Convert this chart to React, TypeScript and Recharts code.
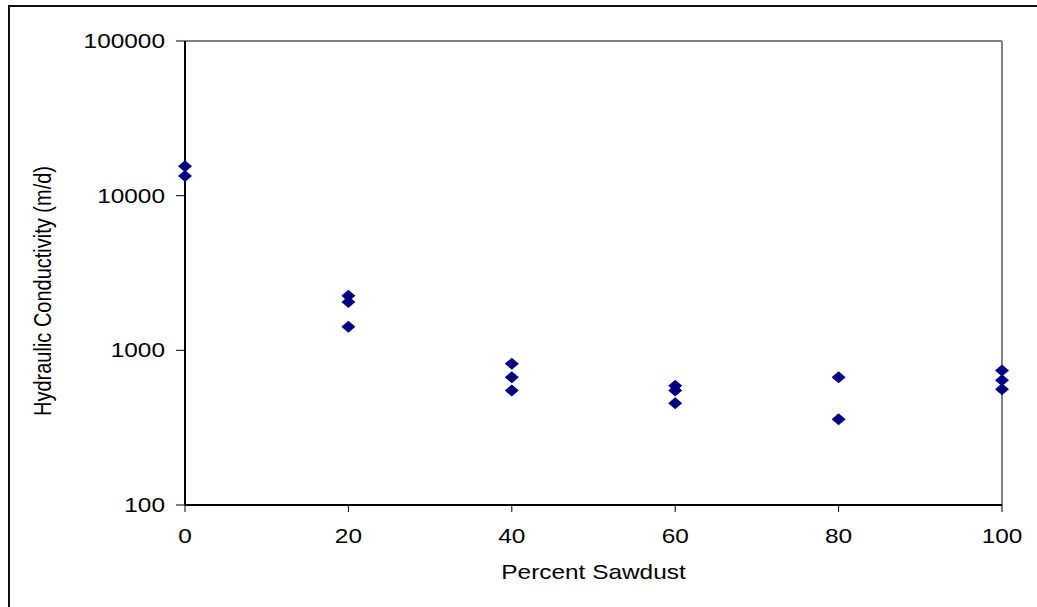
import React from "react";
import {
  ScatterChart,
  Scatter,
  XAxis,
  YAxis,
  ReferenceLine,
  Label,
} from "recharts";

// Sawdust content (%) of each sample and its measured hydraulic conductivity (m/d)
const sawdustPercent = [0, 0, 20, 20, 20, 40, 40, 40, 60, 60, 60, 80, 80, 100, 100, 100];
const conductivity = [15500, 13400, 2250, 2050, 1420, 820, 670, 550, 590, 550, 455, 670, 358, 740, 640, 560];

const xTicks = [0, 20, 40, 60, 80, 100];
const yTicks = [100, 1000, 10000, 100000];

const samples = sawdustPercent.map((p, i) => ({ pct: p, k: conductivity[i] }));

const FONT = "'Liberation Sans', Arial, sans-serif";
const STRETCH = 1.22;

const Diamond = (props: any) => {
  const { cx, cy } = props;
  if (cx == null || cy == null) return null;
  const hw = 7;
  const hh = 6;
  return (
    <polygon
      points={`${cx},${cy - hh} ${cx + hw},${cy} ${cx},${cy + hh} ${cx - hw},${cy}`}
      fill="#000080"
    />
  );
};

const XTick = (props: any) => {
  const { x, y, payload } = props;
  return (
    <text
      transform={`translate(${x},${y}) scale(${STRETCH},1)`}
      x={0}
      y={0}
      dy={27}
      textAnchor="middle"
      fontFamily={FONT}
      fontSize={20}
      fill="#000"
    >
      {payload.value}
    </text>
  );
};

const YTick = (props: any) => {
  const { x, y, payload } = props;
  return (
    <text
      transform={`translate(${x},${y}) scale(${STRETCH},1)`}
      x={0}
      y={0}
      dy={7}
      textAnchor="end"
      fontFamily={FONT}
      fontSize={20}
      fill="#000"
    >
      {payload.value}
    </text>
  );
};

const XTitle = (props: any) => {
  const { viewBox } = props;
  const cx = viewBox.x + viewBox.width / 2;
  const cy = viewBox.y + 74;
  return (
    <text
      transform={`translate(${cx},${cy}) scale(${STRETCH},1)`}
      textAnchor="middle"
      fontFamily={FONT}
      fontSize={20}
      fill="#000"
    >
      Percent Sawdust
    </text>
  );
};

const YTitle = (props: any) => {
  const { viewBox } = props;
  const cy = viewBox.y + viewBox.height / 2 + 18;
  return (
    <text
      transform={`translate(51,${cy}) rotate(-90) scale(1,${STRETCH})`}
      textAnchor="middle"
      fontFamily={FONT}
      fontSize={20}
      fill="#000"
    >
      Hydraulic Conductivity (m/d)
    </text>
  );
};

export default function App() {
  return (
    <div style={{ position: "absolute", left: 0, top: 0, width: 1037, height: 607, background: "#fff" }}>
      <div
        style={{
          position: "absolute",
          left: 8,
          top: 5,
          width: 1040,
          height: 610,
          borderTop: "2px solid #111",
          borderLeft: "2px solid #111",
          boxSizing: "border-box",
        }}
      />
      <div style={{ position: "absolute", left: 0, top: 0 }}>
        <ScatterChart
          width={1037}
          height={607}
          margin={{ top: 41, right: 35, bottom: 42, left: 0 }}
        >
          <XAxis
            type="number"
            dataKey="pct"
            domain={[0, 100]}
            ticks={xTicks}
            interval={0}
            height={60}
            tickSize={7}
            tickMargin={4}
            axisLine={{ stroke: "#000", strokeWidth: 2 }}
            tickLine={{ stroke: "#000", strokeWidth: 1 }}
            tick={<XTick />}
          >
            <Label content={<XTitle />} />
          </XAxis>
          <YAxis
            type="number"
            dataKey="k"
            scale="log"
            domain={[100, 100000]}
            ticks={yTicks}
            interval={0}
            allowDataOverflow
            width={185}
            tickSize={9}
            tickMargin={11}
            axisLine={{ stroke: "#000", strokeWidth: 2 }}
            tickLine={{ stroke: "#000", strokeWidth: 1 }}
            tick={<YTick />}
          >
            <Label content={<YTitle />} />
          </YAxis>
          <ReferenceLine y={100000} stroke="#808080" strokeWidth={2} />
          <ReferenceLine x={100} stroke="#808080" strokeWidth={2} />
          <Scatter data={samples} shape={<Diamond />} isAnimationActive={false} />
        </ScatterChart>
      </div>
    </div>
  );
}
